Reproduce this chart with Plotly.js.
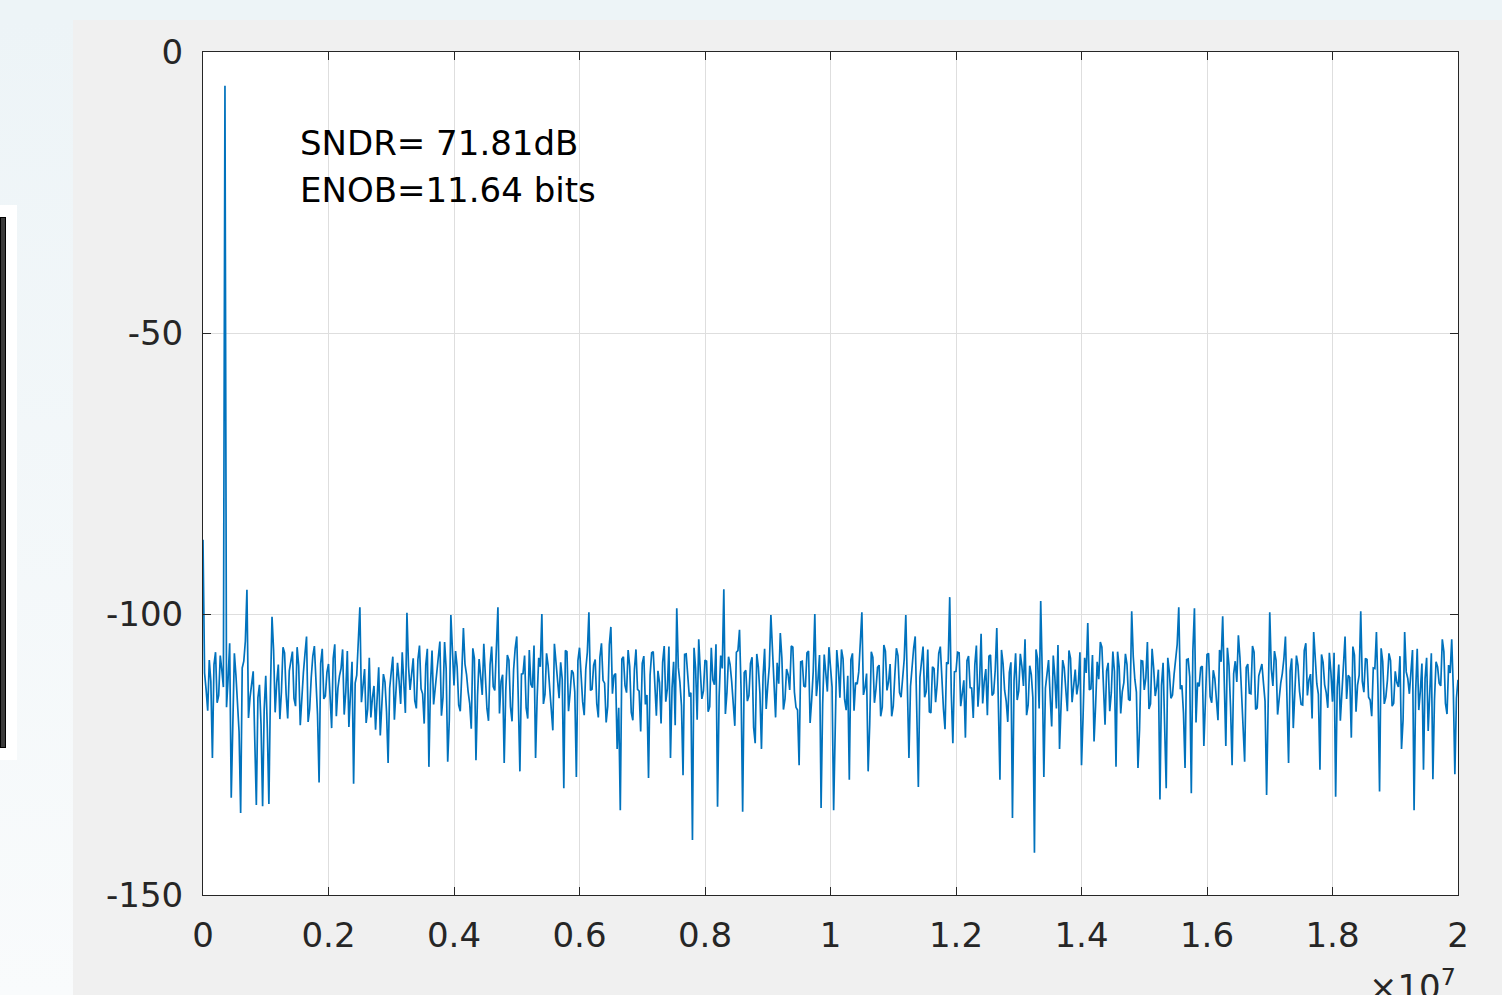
<!DOCTYPE html>
<html>
<head>
<meta charset="utf-8">
<script src="https://cdn.plot.ly/plotly-3.0.1.min.js"></script>
<style>
  html, body { margin: 0; padding: 0; width: 1502px; height: 995px; overflow: hidden; background: #edf4f7; }
  #leftcol { position: absolute; left: 0; top: 20px; width: 73px; height: 975px; background: linear-gradient(#edf4f7, #f9fbfc); }
  #winbox { position: absolute; left: 0; top: 205px; width: 17px; height: 555px; background: #ffffff; }
  #wininner { position: absolute; left: 0; top: 12px; width: 4px; height: 529px; background: #3a3a3a; border: 1.5px solid #000; }
  #chart { position: absolute; left: 73px; top: 20px; width: 1429px; height: 975px; }
</style>
</head>
<body>
<div id="leftcol"></div>
<div id="winbox"><div id="wininner"></div></div>
<div id="chart"></div>
<script>
// FFT bin spacing (Hz); spectrum (dB), split into even and odd bins
const binWidth = 2.5e4;
const evenBinsDb = [
  -86.8, -113.5, -108.2, -125.6, -106.8, -114.5, -110.0, -6.0, -111.5, -132.7,
  -107.0, -116.2, -135.4, -108.4, -95.7, -114.8, -110.2, -134.0, -112.6, -134.2,
  -111.0, -133.8, -100.5, -117.5, -109.0, -113.8, -106.9, -118.6, -108.3, -115.0,
  -105.9, -119.8, -110.4, -104.0, -116.9, -107.5, -112.8, -130.0, -106.2, -114.6,
  -108.9, -120.3, -105.4, -113.2, -109.7, -117.9, -106.6, -115.4, -130.2, -110.9,
  -98.8, -112.5, -119.4, -107.8, -114.9, -120.6, -109.5, -117.2, -112.1, -126.5,
  -110.3, -118.8, -108.7, -116.0, -111.4, -99.8, -113.5, -107.9, -116.8, -105.6,
  -114.2, -109.1, -127.2, -106.5, -113.0, -108.3, -118.1, -105.0, -126.3, -100.2,
  -112.7, -109.4, -117.3, -102.5, -110.8, -115.9, -106.1, -126.0, -108.0, -114.4,
  -111.2, -119.0, -105.8, -113.6, -98.8, -112.0, -126.5, -107.3, -116.5, -109.9,
  -104.0, -128.0, -110.6, -116.7, -106.4, -113.1, -125.6, -107.8, -100.0, -114.3,
  -109.2, -117.7, -105.3, -112.9, -108.6, -131.0, -106.7, -114.1, -110.5, -129.0,
  -106.0, -115.6, -109.8, -99.7, -113.4, -108.1, -118.4, -105.2, -112.3, -116.4,
  -102.3, -110.9, -124.0, -134.9, -107.6, -114.0, -109.3, -118.9, -106.3, -113.7,
  -108.8, -116.1, -129.2, -106.9, -112.4, -110.1, -119.5, -105.7, -113.3, -125.6,
  -108.5, -99.0, -112.1, -128.7, -107.1, -114.7, -140.2, -109.6, -104.5, -115.1,
  -108.2, -117.4, -106.0, -112.6, -134.3, -107.4, -95.6, -113.9, -109.0, -116.3,
  -106.8, -102.8, -135.2, -110.0, -114.5, -107.7, -123.0, -109.4, -124.0, -106.2,
  -112.8, -100.2, -114.2, -108.7, -103.4, -117.0, -109.8, -113.5, -105.9, -116.6,
  -126.9, -108.4, -113.0, -106.6, -115.3, -100.0, -111.7, -134.5, -107.2, -113.8,
  -109.1, -134.9, -106.4, -114.9, -108.0, -117.1, -129.5, -107.0, -112.2, -110.3,
  -99.7, -113.1, -128.0, -106.7, -115.8, -109.5, -118.2, -105.5, -113.6, -108.9,
  -116.4, -106.1, -114.0, -110.6, -100.2, -125.6, -109.2, -104.0, -130.8, -108.1,
  -114.8, -106.3, -117.6, -109.7, -112.5, -105.8, -116.9, -108.6, -97.0, -123.0,
  -110.2, -106.9, -114.3, -122.0, -107.5, -113.2, -109.0, -116.5, -103.5, -112.0,
  -118.0, -107.3, -114.1, -102.5, -129.5, -108.8, -115.5, -110.4, -136.3, -107.0,
  -113.7, -109.3, -104.5, -116.2, -110.8, -142.5, -108.0, -97.7, -129.0, -110.5,
  -114.6, -107.4, -116.8, -124.0, -108.2, -113.0, -106.5, -115.7, -109.9, -112.4,
  -126.9, -107.8, -101.6, -113.3, -122.7, -108.5, -105.0, -114.9, -110.1, -117.3,
  -106.7, -127.2, -109.4, -113.8, -107.1, -115.2, -99.5, -111.6, -127.4, -108.3,
  -113.5, -105.0, -116.0, -109.6, -112.9, -133.0, -108.7, -131.0, -110.3, -114.4,
  -107.6, -98.8, -112.7, -127.4, -108.0, -131.9, -99.0, -112.2, -109.5, -123.5,
  -107.2, -114.7, -110.0, -116.3, -106.4, -100.4, -123.5, -109.1, -126.9, -108.4,
  -103.8, -113.6, -126.3, -108.9, -114.2, -106.8, -116.7, -109.7, -112.3, -132.2,
  -99.7, -112.8, -108.2, -115.0, -110.6, -104.0, -126.5, -107.9, -113.4, -109.2,
  -116.1, -106.5, -114.5, -110.7, -103.2, -112.4, -127.7, -108.6, -114.0, -106.9,
  -115.6, -132.5, -109.0, -113.1, -104.0, -110.9, -122.0, -107.3, -112.6, -99.5,
  -113.9, -108.1, -115.3, -109.6, -103.2, -131.6, -108.4, -114.8, -107.0, -116.4,
  -110.2, -113.0, -124.0, -103.2, -111.5, -109.3, -134.9, -106.2, -113.7, -127.7,
  -107.8, -114.1, -129.4, -108.5, -112.3, -104.5, -115.9, -109.1, -104.5, -128.5,
  -111.7
];
const oddBinsDb = [
  -110.5, -117.2, -112.0, -109.0, -115.8, -107.4, -113.0, -116.6, -105.2, -118.3,
  -110.9, -121.0, -109.6, -104.8, -118.5, -112.7, -122.4, -114.9, -119.7, -117.0,
  -120.3, -113.5, -106.4, -112.2, -118.7, -105.9, -114.3, -110.1, -106.7, -116.4,
  -109.2, -113.7, -107.1, -119.2, -111.3, -105.7, -117.9, -108.8, -115.1, -110.4,
  -114.6, -107.9, -118.2, -111.0, -106.3, -113.9, -120.1, -108.5, -112.3, -106.0,
  -115.7, -109.8, -116.9, -118.4, -112.8, -115.2, -121.6, -110.7, -117.4, -113.2,
  -107.6, -114.1, -111.9, -106.8, -117.6, -109.3, -110.2, -115.4, -108.1, -113.3,
  -119.5, -106.2, -112.6, -116.1, -110.5, -104.9, -114.8, -109.7, -118.9, -107.3,
  -106.6, -116.2, -110.3, -108.9, -113.8, -120.4, -107.9, -114.5, -111.1, -105.3,
  -116.8, -109.0, -112.9, -106.9, -117.7, -110.8, -113.6, -108.2, -119.1, -106.1,
  -115.3, -110.7, -107.4, -118.6, -112.5, -105.6, -114.9, -109.4, -116.0, -107.0,
  -113.2, -120.7, -108.7, -115.0, -111.6, -106.5, -117.3, -110.0, -113.9, -108.3,
  -112.1, -118.0, -106.8, -113.6, -109.1, -115.9, -107.7, -111.8, -119.3, -105.5,
  -114.2, -110.6, -116.7, -108.0, -112.7, -106.4, -117.5, -109.9, -113.4, -120.9,
  -107.5, -114.4, -110.9, -106.7, -118.1, -112.2, -108.6, -115.6, -105.8, -113.1,
  -119.8, -109.5, -116.3, -107.2, -111.4, -114.0, -106.0, -118.8, -110.1, -113.7,
  -108.4, -116.5, -111.7, -105.4, -114.7, -109.7, -117.8, -107.6, -112.0, -119.9,
  -106.5, -113.5, -110.4, -115.5, -108.8, -120.2, -107.1, -114.1, -111.2, -116.9,
  -109.3, -106.2, -118.4, -112.4, -107.8, -115.1, -110.8, -105.7, -113.9, -117.1,
  -108.5, -112.8, -106.9, -119.4, -110.2, -114.6, -107.3, -116.0, -111.5, -105.9,
  -113.0, -118.7, -109.6, -106.3, -115.2, -111.0, -108.1, -117.2, -112.5, -105.1,
  -114.4, -110.6, -119.6, -107.7, -113.3, -109.1, -116.6, -106.6, -112.1, -118.2,
  -110.9, -107.4, -114.8, -108.0, -116.1, -112.9, -106.1, -119.0, -111.3, -105.8,
  -113.8, -117.4, -109.4, -115.7, -107.0, -112.6, -120.5, -108.9, -114.2, -110.3,
  -106.8, -116.4, -111.8, -108.3, -113.1, -118.5, -105.6, -112.3, -115.9, -109.8,
  -107.5, -114.5, -110.0, -117.5, -106.4, -113.6, -119.2, -108.6, -111.9, -115.3,
  -107.1, -112.8, -118.0, -109.2, -114.9, -106.3, -116.8, -110.7, -113.2, -108.2,
  -120.0, -111.1, -105.5, -115.6, -109.6, -117.3, -107.9, -112.4, -114.3, -106.8,
  -118.3, -110.5, -113.5, -107.3, -116.2, -111.6, -105.9, -119.7, -108.7, -114.0,
  -110.2, -106.7, -117.7, -112.2, -109.0, -115.4, -107.6, -113.9, -120.6, -108.4,
  -111.4, -116.9, -106.2, -114.6, -109.9, -112.7, -118.1, -107.8, -115.0, -110.8,
  -105.4, -113.4, -117.6, -108.1, -111.2, -106.5, -119.3, -112.9, -109.3, -114.7,
  -107.0, -115.8, -111.5, -118.9, -108.5, -113.0, -106.0, -116.5, -110.6, -112.1,
  -107.7, -119.1, -109.5, -114.1, -105.7, -117.0, -111.0, -108.9, -115.5, -113.7,
  -109.8, -106.6, -117.9, -112.3, -108.0, -115.7, -110.1, -120.3, -107.4, -113.8,
  -116.2, -105.2, -111.7, -118.6, -109.1, -114.3, -107.2, -112.6, -116.7, -110.4,
  -106.9, -113.1, -119.0, -108.6, -115.1, -111.3, -105.8, -117.4, -110.9, -112.0,
  -107.9, -114.8, -118.2, -109.7, -113.5, -106.1, -116.0, -111.8, -108.3, -115.9,
  -112.2, -107.5, -118.8, -110.3, -114.2, -106.4, -113.9, -117.1, -108.8, -111.5,
  -120.8, -107.0, -115.3, -109.4, -112.8, -106.7, -117.8, -110.5, -113.3, -115.0
];
const xTickVals = [0, 2e6, 4e6, 6e6, 8e6, 1e7, 1.2e7, 1.4e7, 1.6e7, 1.8e7, 2e7];
const xTickText = ['0', '0.2', '0.4', '0.6', '0.8', '1', '1.2', '1.4', '1.6', '1.8', '2'];
const yTickVals = [-150, -100, -50, 0];
const yTickText = ['-150', '-100', '-50', '0'];
const noteLines = ['SNDR= 71.81dB', 'ENOB=11.64 bits'];

// interleave even/odd bins into one spectrum
const spectrumDb = [];
for (let i = 0; i < evenBinsDb.length; i++) {
  spectrumDb.push(evenBinsDb[i]);
  if (i < oddBinsDb.length && i < evenBinsDb.length - 1) spectrumDb.push(oddBinsDb[i]);
}
const freqHz = spectrumDb.map((_, i) => i * binWidth);

const fontFam = 'DejaVu Sans, Liberation Sans, Arial, sans-serif';
const txtColor = '#262626';

const trace = {
  x: freqHz,
  y: spectrumDb,
  type: 'scatter',
  mode: 'lines',
  line: { color: '#0072BD', width: 1.7 },
  hoverinfo: 'skip'
};

const axisCommon = {
  showline: true,
  linecolor: txtColor,
  linewidth: 1,
  mirror: 'ticks',
  ticks: 'inside',
  ticklen: 8,
  tickwidth: 1,
  tickcolor: txtColor,
  showgrid: true,
  gridcolor: '#dedede',
  gridwidth: 1,
  zeroline: false,
  tickfont: { family: fontFam, size: 34, color: txtColor }
};

const layout = {
  width: 1429,
  height: 975,
  margin: { l: 130, r: 44, t: 32, b: 100 },
  paper_bgcolor: '#f0f0f0',
  plot_bgcolor: '#ffffff',
  showlegend: false,
  xaxis: Object.assign({}, axisCommon, {
    range: [0, 2e7],
    tickmode: 'array',
    tickvals: xTickVals,
    ticktext: xTickText,
    ticklabelstandoff: 10
  }),
  yaxis: Object.assign({}, axisCommon, {
    range: [-150, 0],
    tickmode: 'array',
    tickvals: yTickVals,
    ticktext: yTickText,
    ticklabelstandoff: 12
  }),
  annotations: [
    { x: 1.514e6, y: -16.2, xref: 'x', yref: 'y', text: noteLines[0], showarrow: false,
      xanchor: 'left', yanchor: 'middle', font: { family: fontFam, size: 34, color: '#000' } },
    { x: 1.514e6, y: -24.6, xref: 'x', yref: 'y', text: noteLines[1], showarrow: false,
      xanchor: 'left', yanchor: 'middle', font: { family: fontFam, size: 34, color: '#000' } },
    { x: 1.0, y: -0.078, xref: 'paper', yref: 'paper', text: '×10<sup>7</sup>', showarrow: false,
      xanchor: 'right', yanchor: 'top', font: { family: fontFam, size: 34, color: txtColor } }
  ]
};

Plotly.newPlot('chart', [trace], layout, { staticPlot: true, displayModeBar: false });
</script>
</body>
</html>
